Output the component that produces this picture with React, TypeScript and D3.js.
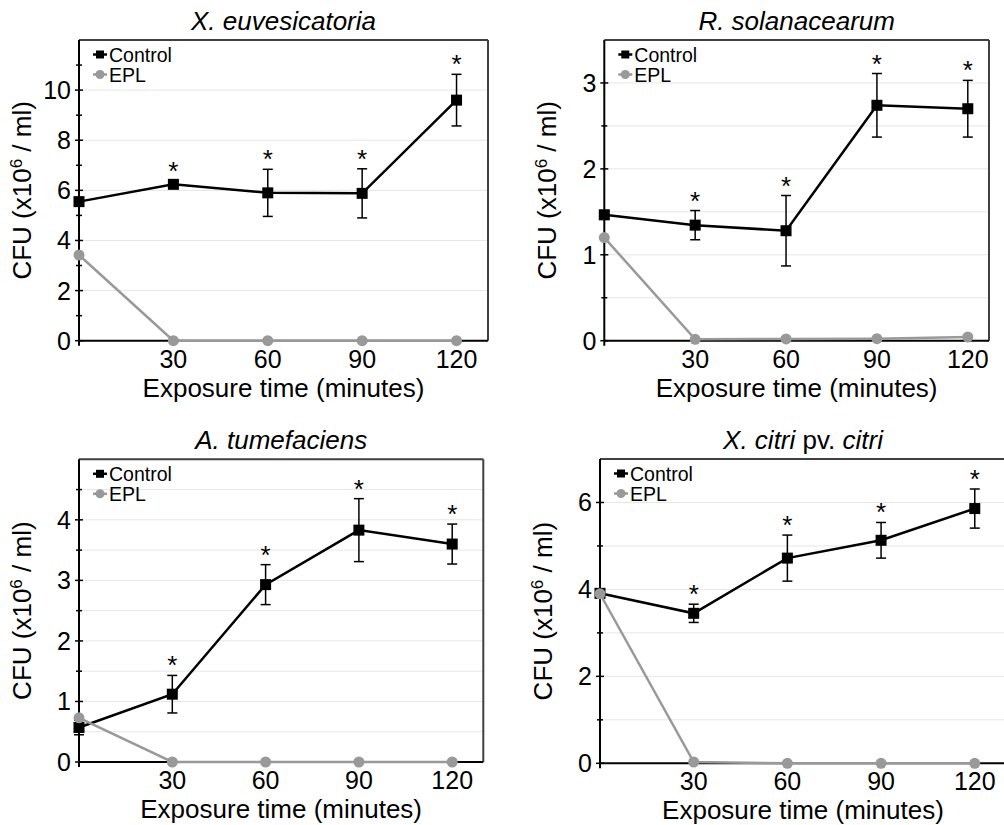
import * as d3 from 'd3'

const times = [0, 30, 60, 90, 120]
const xTickValues = [30, 60, 90, 120]

const titles = ['X. euvesicatoria', 'R. solanacearum', 'A. tumefaciens', 'X. citri pv. citri']

const controlXe = [5.55, 6.24, 5.9, 5.88, 9.6]
const controlXeErr = [0.15, 0.12, 0.94, 0.98, 1.03]
const eplXe = [3.42, 0, 0, 0, 0]

const controlRs = [1.465, 1.345, 1.28, 2.74, 2.7]
const controlRsErr = [0.05, 0.17, 0.41, 0.37, 0.33]
const eplRs = [1.2, 0.016, 0.02, 0.023, 0.043]

const controlAt = [0.57, 1.12, 2.93, 3.83, 3.6]
const controlAtErr = [0.12, 0.31, 0.33, 0.52, 0.33]
const eplAt = [0.73, 0, 0, 0, 0]

const controlXc = [3.91, 3.45, 4.72, 5.13, 5.86]
const controlXcErr = [0.1, 0.21, 0.53, 0.41, 0.45]
const eplXc = [3.9, 0.03, 0, 0, 0]

const significant = [false, true, true, true, true]

const FONT = '"Liberation Sans", Arial, sans-serif'
const GRAY = '#999999'

const panels = [
  { title: 0, control: controlXe, err: controlXeErr, epl: eplXe, left: 79, top: 40, right: 488, bottom: 340.7, xMax: 130, yMax: 12, major: 2, minor: 1, grid: 2 },
  { title: 1, control: controlRs, err: controlRsErr, epl: eplRs, left: 604.3, top: 40, right: 989, bottom: 340.7, xMax: 127, yMax: 3.5, major: 1, minor: 0.5, grid: 0.5 },
  { title: 2, control: controlAt, err: controlAtErr, epl: eplAt, left: 79, top: 459.3, right: 483.3, bottom: 762, xMax: 130, yMax: 5, major: 1, minor: 0.5, grid: 0.5 },
  { title: 3, control: controlXc, err: controlXcErr, epl: eplXc, left: 600, top: 459, right: 1006, bottom: 763.3, xMax: 130, yMax: 7, major: 2, minor: 1, grid: 1 },
]

const range = (step, max) => d3.range(0, max + 1e-9, step).map((v) => +v.toFixed(3))

const Title = ({ idx, x, y }) => {
  if (idx === 3) {
    return (
      <text x={x} y={y} textAnchor="middle" fontSize={26} fontFamily={FONT}>
        <tspan fontStyle="italic">X. citri</tspan>
        <tspan> pv. </tspan>
        <tspan fontStyle="italic">citri</tspan>
      </text>
    )
  }
  return (
    <text x={x} y={y} textAnchor="middle" fontSize={26} fontStyle="italic" fontFamily={FONT}>
      {titles[idx]}
    </text>
  )
}

const Panel = ({ p }) => {
  const x = d3.scaleLinear().domain([0, p.xMax]).range([p.left, p.right])
  const y = d3.scaleLinear().domain([0, p.yMax]).range([p.bottom, p.top])

  const line = d3
    .line()
    .x((d) => x(d[0]))
    .y((d) => y(d[1]))

  const controlPts = times.map((t, i) => [t, p.control[i]])
  const eplPts = times.map((t, i) => [t, p.epl[i]])

  const gridVals = range(p.grid, p.yMax).filter((v) => v > 0 && v < p.yMax)
  const majorVals = range(p.major, p.yMax).filter((v) => v < p.yMax)
  const minorVals = range(p.minor, p.yMax).filter((v) => v < p.yMax && !majorVals.includes(v))

  const cx = (p.left + p.right) / 2
  const cy = (p.top + p.bottom) / 2
  const row1 = p.top + 14.5
  const row2 = p.top + 34.5

  return (
    <g>
      <Title idx={p.title} x={cx} y={p.top - 10} />

      {gridVals.map((v) => (
        <line key={'g' + v} x1={p.left} x2={p.right} y1={y(v)} y2={y(v)} stroke="#e6e6e6" strokeWidth={1} />
      ))}

      {/* frame */}
      <line x1={p.left} x2={p.right} y1={p.top} y2={p.top} stroke="#404040" strokeWidth={2} />
      <line x1={p.right} x2={p.right} y1={p.top} y2={p.bottom} stroke="#404040" strokeWidth={2} />
      <line x1={p.left} x2={p.right} y1={p.bottom} y2={p.bottom} stroke="#000" strokeWidth={2} />
      <line x1={p.left} x2={p.left} y1={p.top} y2={p.bottom + 5} stroke="#000" strokeWidth={2} />

      {majorVals.map((v) => (
        <g key={'t' + v}>
          <line x1={p.left - 4} x2={p.left + 4} y1={y(v)} y2={y(v)} stroke="#000" strokeWidth={1.5} />
          <text x={p.left - 8} y={y(v)} dy="0.36em" textAnchor="end" fontSize={25} fontFamily={FONT}>
            {v}
          </text>
        </g>
      ))}
      {minorVals.map((v) => (
        <line key={'m' + v} x1={p.left - 3} x2={p.left + 3} y1={y(v)} y2={y(v)} stroke="#000" strokeWidth={1.5} />
      ))}

      {xTickValues.map((v) => (
        <text key={'x' + v} x={x(v)} y={p.bottom + 27} textAnchor="middle" fontSize={25} fontFamily={FONT}>
          {v}
        </text>
      ))}
      <text x={cx} y={p.bottom + 56} textAnchor="middle" fontSize={26} fontFamily={FONT}>
        Exposure time (minutes)
      </text>
      <text
        transform={`translate(${p.left - 48}, ${cy}) rotate(-90)`}
        textAnchor="middle"
        fontSize={26}
        fontFamily={FONT}
      >
        CFU (x10<tspan dy={-9} fontSize={17}>6</tspan>
        <tspan dy={9}> / ml)</tspan>
      </text>

      {/* control */}
      <path d={line(controlPts)} fill="none" stroke="#000" strokeWidth={2.5} />
      {times.map((t, i) => {
        const hi = y(p.control[i] + p.err[i])
        const lo = y(p.control[i] - p.err[i])
        return (
          <g key={'e' + t} stroke="#000" strokeWidth={1.5}>
            <line x1={x(t)} x2={x(t)} y1={hi} y2={lo} />
            <line x1={x(t) - 5} x2={x(t) + 5} y1={hi} y2={hi} />
            <line x1={x(t) - 5} x2={x(t) + 5} y1={lo} y2={lo} />
          </g>
        )
      })}
      {times.map((t, i) => (
        <rect key={'s' + t} x={x(t) - 5.5} y={y(p.control[i]) - 5.5} width={11} height={11} fill="#000" />
      ))}
      {times.map((t, i) =>
        significant[i] ? (
          <text
            key={'a' + t}
            x={x(t)}
            y={y(p.control[i] + p.err[i]) - 1}
            textAnchor="middle"
            fontSize={26}
            fontFamily={FONT}
          >
            *
          </text>
        ) : null
      )}

      {/* EPL */}
      <path d={line(eplPts)} fill="none" stroke={GRAY} strokeWidth={2.5} />
      {times.map((t, i) => (
        <circle key={'c' + t} cx={x(t)} cy={y(p.epl[i])} r={5.5} fill={GRAY} />
      ))}

      {/* legend */}
      <g fontFamily={FONT} fontSize={19.5}>
        <line x1={p.left + 14} x2={p.left + 28} y1={row1} y2={row1} stroke="#000" strokeWidth={2.5} />
        <rect x={p.left + 17} y={row1 - 4} width={8} height={8} fill="#000" />
        <text x={p.left + 30} y={row1} dy="0.36em">
          Control
        </text>
        <line x1={p.left + 14} x2={p.left + 28} y1={row2} y2={row2} stroke={GRAY} strokeWidth={2.5} />
        <circle cx={p.left + 21} cy={row2} r={4.5} fill={GRAY} />
        <text x={p.left + 30} y={row2} dy="0.36em" fill="#000">
          EPL
        </text>
      </g>
    </g>
  )
}

export default function App() {
  return (
    <svg
      width={1004}
      height={825}
      style={{ position: 'absolute', left: 0, top: 0, background: '#fff' }}
    >
      <rect width={1004} height={825} fill="#fff" />
      {panels.map((p) => (
        <Panel key={p.title} p={p} />
      ))}
    </svg>
  )
}
